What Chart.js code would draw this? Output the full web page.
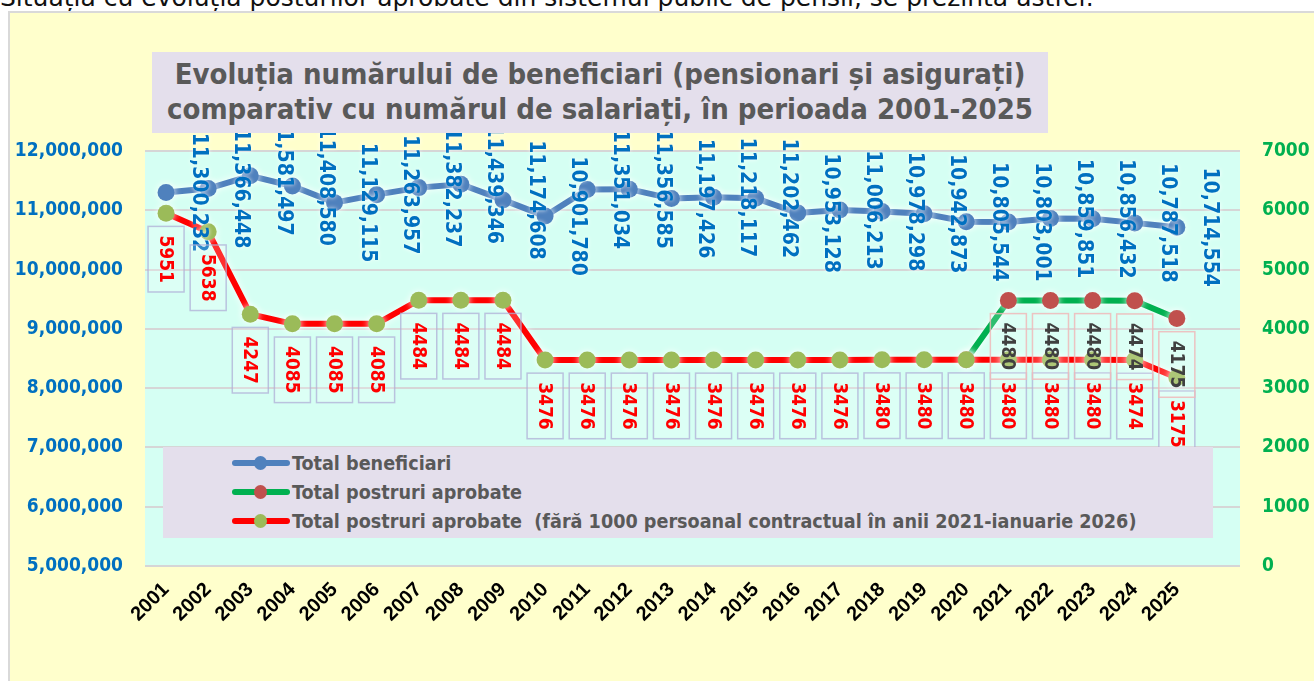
<!DOCTYPE html>
<html>
<head>
<meta charset="utf-8">
<script src="https://cdn.jsdelivr.net/npm/chart.js@4/dist/chart.umd.min.js"></script>
<style>
  html,body{margin:0;padding:0;background:#fff;width:1314px;height:681px;overflow:hidden;}
  #topText{position:absolute;left:0;top:-15px;font-family:"DejaVu Sans",sans-serif;font-size:25px;line-height:25px;color:#111;white-space:nowrap;}
  #frame{position:absolute;left:8px;top:11px;width:1310px;height:680px;background:#FFFFCC;border-left:2px solid #D9D9D9;border-top:2px solid #D9D9D9;}
  #wrap{position:absolute;left:0;top:0;width:1314px;height:681px;}
  #title{position:absolute;left:152px;top:52px;width:896px;height:81px;background:#E4DFEC;color:#595959;
    font-family:"DejaVu Sans Condensed","DejaVu Sans",sans-serif;font-weight:bold;font-size:29px;line-height:35px;
    text-align:center;padding-top:5px;box-sizing:border-box;white-space:nowrap;}
  #legend{position:absolute;left:163px;top:447px;width:1050px;height:91px;background:#E4DFEC;
    font-family:"DejaVu Sans Condensed","DejaVu Sans",sans-serif;font-weight:bold;font-size:19.6px;color:#595959;}
  .row{position:absolute;left:69px;height:22px;display:flex;align-items:center;}
  .ico{position:relative;width:58px;height:22px;margin-right:2px;}
  .ico .ln{position:absolute;left:0;top:8px;width:58px;height:6px;border-radius:3px;}
  .ico .mk{position:absolute;left:22px;top:4px;width:13px;height:14px;border-radius:50%;}
</style>
</head>
<body>
<div id="topText">Situația cu evoluția posturilor aprobate din sistemul public de pensii, se prezintă astfel:</div>
<div id="frame"></div>
<div id="wrap"><canvas id="c" width="1314" height="681"></canvas></div>
<div id="title">Evoluția numărului de beneficiari (pensionari și asigurați)<br>comparativ cu numărul de salariați, în perioada 2001-2025</div>
<div id="legend">
  <div class="row" style="top:5px"><div class="ico"><div class="ln" style="background:#4F81BD"></div><div class="mk" style="background:#4F81BD"></div></div>Total beneficiari</div>
  <div class="row" style="top:34px"><div class="ico"><div class="ln" style="background:#00B050"></div><div class="mk" style="background:#C0504D"></div></div>Total postruri aprobate</div>
  <div class="row" style="top:63px"><div class="ico"><div class="ln" style="background:#FF0000"></div><div class="mk" style="background:#9BBB59"></div></div>Total postruri aprobate&nbsp; (fără 1000 persoanal contractual în anii 2021-ianuarie 2026)</div>
</div>
<script>
const years = ['2001','2002','2003','2004','2005','2006','2007','2008','2009','2010','2011','2012','2013',
  '2014','2015','2016','2017','2018','2019','2020','2021','2022','2023','2024','2025'];
const beneficiari = [11300232, 11366448, 11581497, 11408580, 11129115, 11263957, 11382237, 11439346, 11174608,
  10901780, 11351034, 11356585, 11197426, 11218117, 11202462, 10953128, 11006213, 10978298, 10942873,
  10805544, 10803001, 10859851, 10856432, 10787518, 10714554];
const posturiAprobate = [null, null, null, null, null, null, null, null, null, null, null, null, null,
  null, null, null, null, null, null, 3480, 4480, 4480, 4480, 4474, 4175];
const posturiFara1000 = [5951, 5638, 4247, 4085, 4085, 4085, 4484, 4484, 4484, 3476, 3476, 3476, 3476,
  3476, 3476, 3476, 3476, 3480, 3480, 3480, 3480, 3480, 3480, 3474, 3175];
const leftTicks = [5000000, 6000000, 7000000, 8000000, 9000000, 10000000, 11000000, 12000000];
const rightTicks = [0, 1000, 2000, 3000, 4000, 5000, 6000, 7000];

const NUMFONT = "'DejaVu Sans Condensed','DejaVu Sans',sans-serif";
const categories = years.concat(['']);

const bgPlugin = {
  id: 'bg',
  beforeDraw(chart) {
    const {ctx, chartArea: a} = chart;
    ctx.save();
    ctx.fillStyle = '#D5FFF3';
    ctx.fillRect(a.left, a.top, a.right - a.left, a.bottom - a.top);
    ctx.restore();
  },
  beforeDatasetsDraw(chart) {
    const ctx = chart.ctx;
    ctx.save();
    ctx.shadowColor = 'rgba(255,255,255,0.95)';
    ctx.shadowBlur = 7;
  },
  afterDatasetsDraw(chart) {
    chart.ctx.restore();
    drawLabels(chart);
  }
};

function fmt(v) { return v.toLocaleString('en-US'); }

function drawLabels(chart) {
  const ctx = chart.ctx;
  ctx.save();
  ctx.textAlign = 'center';
  ctx.textBaseline = 'middle';
  // blue labels
  ctx.font = "bold 21px " + NUMFONT;
  const mb = chart.getDatasetMeta(0);
  const step = chart.scales.x.getPixelForValue(1) - chart.scales.x.getPixelForValue(0);
  mb.data.forEach((p, i) => {
    const x = p.x + step * 0.8, y = p.y;
    ctx.save();
    ctx.translate(x, y);
    ctx.rotate(Math.PI / 2);
    ctx.shadowColor = 'rgba(255,255,255,0.9)';
    ctx.shadowBlur = 4;
    ctx.fillStyle = '#0070C0';
    ctx.fillText(fmt(beneficiari[i]), 0, 1);
    ctx.restore();
  });
  ctx.font = "bold 19px " + NUMFONT;
  const boxLabel = (p, txt, color, border) => {
    const w = ctx.measureText(txt).width;
    const cx = p.x, cy = p.y + 46;
    ctx.save();
    ctx.translate(cx, cy);
    ctx.rotate(Math.PI / 2);
    ctx.fillStyle = 'rgba(255,255,255,0.18)';
    ctx.fillRect(-w / 2 - 9, -18, w + 18, 36);
    ctx.strokeStyle = border;
    ctx.lineWidth = 1.5;
    ctx.strokeRect(-w / 2 - 9, -18, w + 18, 36);
    ctx.fillStyle = color;
    ctx.fillText(txt, 0, 1);
    ctx.restore();
  };
  const mr = chart.getDatasetMeta(1);
  mr.data.forEach((p, i) => boxLabel(p, String(posturiFara1000[i]), '#FF0000', 'rgba(175,175,215,0.75)'));
  const mg = chart.getDatasetMeta(2);
  mg.data.forEach((p, i) => {
    const v = posturiAprobate[i];
    if (v === null || v === posturiFara1000[i]) return;
    boxLabel(p, String(v), '#404040', 'rgba(240,185,185,0.85)');
  });
  ctx.restore();
}

new Chart(document.getElementById('c'), {
  type: 'line',
  data: {
    labels: categories,
    datasets: [
      { label: 'Total beneficiari', data: beneficiari, yAxisID: 'y', borderColor: '#4F81BD', backgroundColor: '#4F81BD',
        borderWidth: 6, pointRadius: 8.5, pointBackgroundColor: '#4F81BD', pointBorderWidth: 0, tension: 0 },
      { label: 'Total postruri aprobate  (fără 1000 persoanal contractual în anii 2021-ianuarie 2026)', data: posturiFara1000, yAxisID: 'y1',
        borderColor: '#FF0000', backgroundColor: '#9BBB59', borderWidth: 6, pointRadius: 8.5,
        pointBackgroundColor: '#9BBB59', pointBorderWidth: 0, tension: 0 },
      { label: 'Total postruri aprobate', data: posturiAprobate, yAxisID: 'y1', borderColor: '#00B050', backgroundColor: '#C0504D',
        borderWidth: 6, pointRadius: 8.5, pointBackgroundColor: '#C0504D', pointBorderWidth: 0, tension: 0, spanGaps: false }
    ]
  },
  options: {
    responsive: false,
    animation: false,
    layout: { padding: { top: 151, left: 0, right: 0, bottom: 0 } },
    plugins: { legend: { display: false }, tooltip: { enabled: false }, title: { display: false } },
    scales: {
      x: {
        offset: true,
        grid: { display: false },
        border: { display: false },
        ticks: { color: '#000', font: { family: "'Liberation Sans',Arial,sans-serif", weight: 'bold', size: 20 },
          minRotation: 45, maxRotation: 45, autoSkip: false, padding: 4 },
        afterFit(s) { s.height = 115; }
      },
      y: {
        position: 'left', min: 5000000, max: 12000000,
        afterBuildTicks(s) { s.ticks = leftTicks.map(v => ({ value: v })); },
        grid: { color: '#D6D6D6', lineWidth: 2, drawTicks: false },
        border: { display: false },
        ticks: { color: '#0070C0', font: { family: NUMFONT, weight: 'bold', size: 19 }, padding: 22,
          callback: v => fmt(v) },
        afterFit(s) { s.width = 145; }
      },
      y1: {
        position: 'right', min: 0, max: 7000,
        afterBuildTicks(s) { s.ticks = rightTicks.map(v => ({ value: v })); },
        grid: { drawOnChartArea: false, drawTicks: false },
        border: { display: false },
        ticks: { color: '#00B050', font: { family: NUMFONT, weight: 'bold', size: 19 }, padding: 22,
          callback: v => String(v) },
        afterFit(s) { s.width = 74; }
      }
    }
  },
  plugins: [bgPlugin]
});
</script>
</body>
</html>
